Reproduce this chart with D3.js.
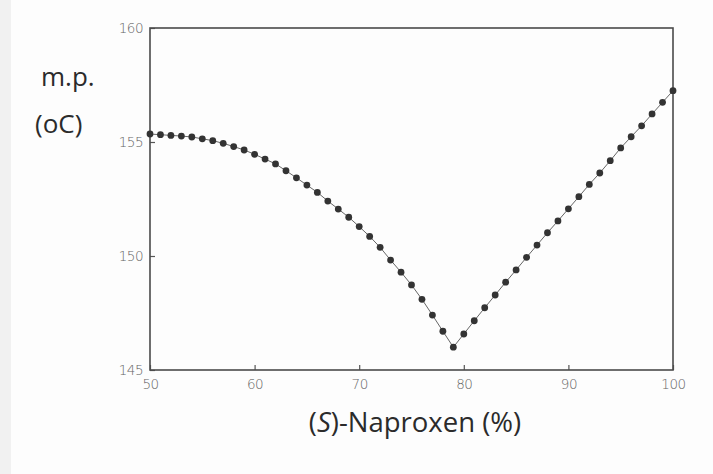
<!DOCTYPE html>
<html>
<head>
<meta charset="utf-8">
<script src="https://cdn.jsdelivr.net/npm/d3@7"></script>
<style>
  html, body { margin: 0; padding: 0; background: #fdfdfd; overflow: hidden; }
  svg { display: block; }
  .tick text { font-family: "DejaVu Sans", sans-serif; font-weight: 200; fill: #666; }
  .title { font-family: "Open Sans", sans-serif; fill: #2b2b2b; }
</style>
</head>
<body>
<div id="chart"></div>
<script>
// (S)-Naproxen content (%) and melting point (oC)
var composition = [50, 51, 52, 53, 54, 55, 56, 57, 58, 59,
                   60, 61, 62, 63, 64, 65, 66, 67, 68, 69,
                   70, 71, 72, 73, 74, 75, 76, 77, 78, 79,
                   80, 81, 82, 83, 84, 85, 86, 87, 88, 89,
                   90, 91, 92, 93, 94, 95, 96, 97, 98, 99, 100];
var meltingPoint = [155.35, 155.32, 155.29, 155.26, 155.22, 155.14, 155.06, 154.94, 154.80, 154.65,
                    154.46, 154.25, 154.04, 153.74, 153.43, 153.11, 152.79, 152.41, 152.06, 151.70,
                    151.29, 150.86, 150.38, 149.82, 149.29, 148.73, 148.10, 147.41, 146.70, 146.00,
                    146.58, 147.16, 147.73, 148.29, 148.85, 149.39, 149.94, 150.48, 151.02, 151.54,
                    152.07, 152.60, 153.14, 153.64, 154.18, 154.74, 155.23, 155.71, 156.23, 156.74, 157.25];
var xTicks = [50, 60, 70, 80, 90, 100];
var yTicks = [145, 150, 155, 160];

function setup() {
    var margin = {top: 28, right: 40, bottom: 104, left: 150},
        width = 713 - margin.left - margin.right,
        height = 474 - margin.top - margin.bottom;

    var x = d3.scaleLinear().domain([50, 100]).range([0, width]);
    var y = d3.scaleLinear().domain([145, 160]).range([height, 0]);

    var root = d3.select("#chart").append("svg")
        .attr("width", 713)
        .attr("height", 474);

    // faint scan edge on the left
    root.append("rect")
        .attr("x", 0).attr("y", 0)
        .attr("width", 11).attr("height", 474)
        .attr("fill", "#f1f1f1");

    var svg = root.append("g")
        .attr("transform", "translate(" + margin.left + "," + margin.top + ")");

    var data = composition.map(function(c, i) { return {c: c, mp: meltingPoint[i]}; });

    // axes, ticks pointing inward
    var xAxis = svg.append("g")
        .attr("transform", "translate(0," + height + ")")
        .call(d3.axisBottom(x).tickValues(xTicks).tickSize(-5).tickPadding(9));
    var yAxis = svg.append("g")
        .call(d3.axisLeft(y).tickValues(yTicks).tickSize(-5).tickPadding(7));

    [xAxis, yAxis].forEach(function(a) {
        a.select(".domain").remove();
        a.selectAll(".tick line").attr("stroke", "#555").attr("stroke-width", 1.2);
        a.selectAll(".tick text").style("font-size", "13.5px").style("letter-spacing", "-0.5px");
    });

    // frame
    svg.append("rect")
        .attr("width", width)
        .attr("height", height)
        .attr("fill", "none")
        .attr("stroke", "#4a4a4a")
        .attr("stroke-width", 1.6);

    // line
    var line = d3.line()
        .x(function(d) { return x(d.c); })
        .y(function(d) { return y(d.mp); });

    svg.append("path")
        .datum(data)
        .attr("d", line)
        .attr("fill", "none")
        .attr("stroke", "#666")
        .attr("stroke-width", 1);

    // dots
    svg.selectAll(".dot")
        .data(data)
        .enter().append("circle")
        .attr("class", "dot")
        .attr("cx", function(d) { return x(d.c); })
        .attr("cy", function(d) { return y(d.mp); })
        .attr("r", 3.4)
        .attr("fill", "#333");

    // titles
    root.append("text")
        .attr("class", "title")
        .attr("x", 41).attr("y", 86)
        .style("font-size", "26px")
        .text("m.p.");
    root.append("text")
        .attr("class", "title")
        .attr("x", 35).attr("y", 133)
        .style("font-size", "26px")
        .text("(oC)");

    var xt = root.append("text")
        .attr("class", "title")
        .attr("x", 415).attr("y", 432)
        .attr("text-anchor", "middle")
        .style("font-size", "27.5px");
    xt.append("tspan").text("(");
    xt.append("tspan").style("font-style", "italic").text("S");
    xt.append("tspan").text(")-Naproxen (%)");
}

setup();
</script>
</body>
</html>
